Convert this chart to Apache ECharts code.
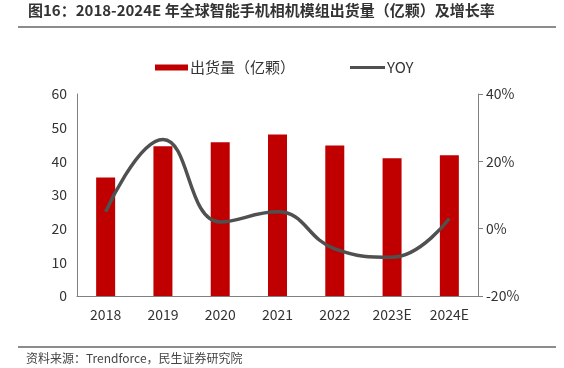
<!DOCTYPE html>
<html><head><meta charset="utf-8">
<script src="https://cdn.jsdelivr.net/npm/echarts@6/dist/echarts.min.js"></script>
<style>html,body{margin:0;padding:0;background:#fff}#c{width:564px;height:368px}</style>
</head><body><div id="c"></div>
<script>
var categories = ['2018','2019','2020','2021','2022','2023E','2024E'];
var shipments = [35.2, 44.5, 45.7, 48.0, 44.7, 40.9, 41.8];
var yoy = [5.0, 26.5, 2.0, 5.0, -6.0, -8.5, 3.0];
var leftTicks = {min:0, max:60, interval:10};
var rightTicks = {min:-20, max:40, interval:20};

var chart = echarts.init(document.getElementById('c'));
var font = '"Microsoft YaHei","Noto Sans CJK SC",sans-serif';
var legendText = {fontSize:15, color:'#333', fontFamily:font, padding:[0,0,0,-3]};
chart.setOption({
  animation:false,
  textStyle:{fontFamily:font},
  graphic:[
    {type:'text', left:28, top:3, style:{text:'图16：2018-2024E 年全球智能手机相机模组出货量（亿颗）及增长率', font:'bold 15px '+font, fill:'#333'}},
    {type:'line', shape:{x1:18,y1:27,x2:556,y2:27}, style:{stroke:'#666', lineWidth:1.5}},
    {type:'line', shape:{x1:18,y1:347,x2:556,y2:347}, style:{stroke:'#666', lineWidth:1.5}},
    {type:'text', left:26, top:352, style:{text:'资料来源：Trendforce，民生证券研究院', font:'12px '+font, fill:'#444'}}
  ],
  legend:[
    {top:55, left:150, itemWidth:33, itemHeight:6, textStyle:legendText,
     data:[{name:'出货量（亿颗）', icon:'rect'}]},
    {top:55, left:345, itemWidth:35, itemHeight:3, textStyle:legendText,
     data:[{name:'YOY', icon:'rect'}]}
  ],
  grid:{left:77, right:86, top:94, bottom:72},
  xAxis:{
    type:'category', data:categories,
    axisLine:{lineStyle:{color:'#808080'}},
    axisTick:{show:false},
    axisLabel:{fontSize:14, color:'#333', margin:12}
  },
  yAxis:[
    {type:'value', min:leftTicks.min, max:leftTicks.max, interval:leftTicks.interval,
     splitLine:{show:false},
     axisLine:{show:true, lineStyle:{color:'#808080'}},
     axisTick:{show:false},
     axisLabel:{fontSize:14, color:'#333', margin:10}},
    {type:'value', min:rightTicks.min, max:rightTicks.max, interval:rightTicks.interval,
     splitLine:{show:false},
     axisLine:{show:true, lineStyle:{color:'#808080'}},
     axisTick:{show:true, length:5, lineStyle:{color:'#808080'}},
     axisLabel:{fontSize:14, color:'#333', margin:8, formatter:'{value}%'}}
  ],
  series:[
    {name:'出货量（亿颗）', type:'bar', data:shipments, barWidth:19, itemStyle:{color:'#C00000'}},
    {name:'YOY', type:'line', yAxisIndex:1, data:yoy, smooth:0.45, symbol:'none',
     lineStyle:{color:'#505050', width:3.5}, itemStyle:{color:'#505050'}}
  ]
});
</script></body></html>
